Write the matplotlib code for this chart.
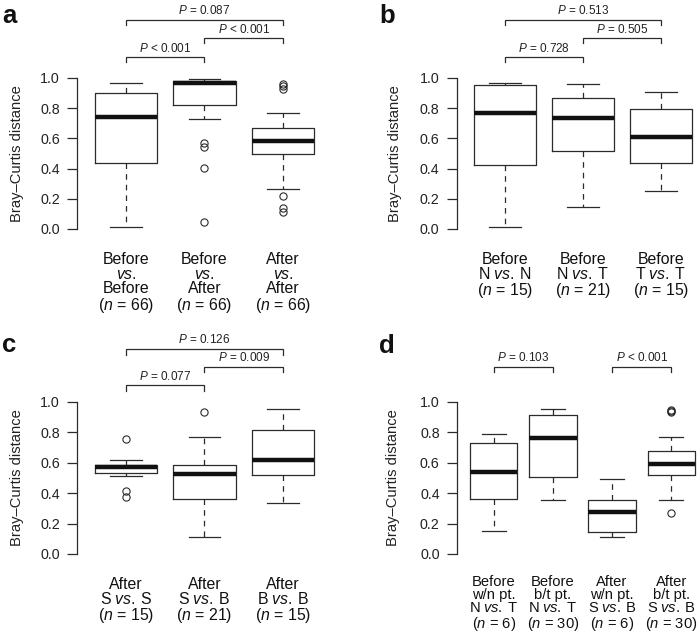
import matplotlib
matplotlib.use("Agg")
import matplotlib.pyplot as plt

plt.rcParams['font.family'] = ['Liberation Sans', 'DejaVu Sans']
plt.rcParams['mathtext.fontset'] = 'custom'
plt.rcParams['mathtext.rm'] = 'Liberation Sans'
plt.rcParams['mathtext.it'] = 'Liberation Sans:italic'
plt.rcParams['mathtext.default'] = 'it'

def vs(a, b):
    return "$\\mathrm{%s}\\;\\mathit{vs.}\\;\\mathrm{%s}$" % (a, b)

# ---------------- data ----------------
# Panel a
a_labels = ["Before\n$\\mathit{vs.}$\nBefore\n($\\mathit{n}$ = 66)",
            "Before\n$\\mathit{vs.}$\nAfter\n($\\mathit{n}$ = 66)",
            "After\n$\\mathit{vs.}$\nAfter\n($\\mathit{n}$ = 66)"]
a_whislo = [0.013, 0.728, 0.268]
a_q1 = [0.434, 0.819, 0.498]
a_med = [0.739, 0.965, 0.580]
a_q3 = [0.898, 0.982, 0.670]
a_whishi = [0.965, 0.993, 0.770]
a_fliers = [[], [0.571, 0.540, 0.405, 0.046], [0.960, 0.950, 0.930, 0.219, 0.142, 0.110]]
a_pairs = [(1, 2), (2, 3), (1, 3)]
a_pvals = ["< 0.001", "< 0.001", "= 0.087"]

# Panel b
b_labels = ["Before\n" + vs("N", "N") + "\n($\\mathit{n}$ = 15)",
            "Before\n" + vs("N", "T") + "\n($\\mathit{n}$ = 21)",
            "Before\n" + vs("T", "T") + "\n($\\mathit{n}$ = 15)"]
b_whislo = [0.013, 0.146, 0.252]
b_q1 = [0.427, 0.515, 0.440]
b_med = [0.765, 0.735, 0.611]
b_q3 = [0.956, 0.869, 0.794]
b_whishi = [0.965, 0.958, 0.909]
b_fliers = [[], [], []]
b_pairs = [(1, 2), (2, 3), (1, 3)]
b_pvals = ["= 0.728", "= 0.505", "= 0.513"]

# Panel c
c_labels = ["After\n" + vs("S", "S") + "\n($\\mathit{n}$ = 15)",
            "After\n" + vs("S", "B") + "\n($\\mathit{n}$ = 21)",
            "After\n" + vs("B", "B") + "\n($\\mathit{n}$ = 15)"]
c_whislo = [0.513, 0.112, 0.338]
c_q1 = [0.531, 0.360, 0.518]
c_med = [0.570, 0.526, 0.616]
c_q3 = [0.586, 0.583, 0.814]
c_whishi = [0.618, 0.770, 0.954]
c_fliers = [[0.759, 0.413, 0.373], [0.932], []]
c_pairs = [(1, 2), (2, 3), (1, 3)]
c_pvals = ["= 0.077", "= 0.009", "= 0.126"]

# Panel d
d_labels = ["Before\nw/n pt.\n" + vs("N", "T") + "\n($\\mathit{n}$ = 6)",
            "Before\nb/t pt.\n" + vs("N", "T") + "\n($\\mathit{n}$ = 30)",
            "After\nw/n pt.\n" + vs("S", "B") + "\n($\\mathit{n}$ = 6)",
            "After\nb/t pt.\n" + vs("S", "B") + "\n($\\mathit{n}$ = 30)"]
d_whislo = [0.151, 0.355, 0.112, 0.357]
d_q1 = [0.360, 0.504, 0.145, 0.518]
d_med = [0.537, 0.765, 0.274, 0.592]
d_q3 = [0.728, 0.914, 0.357, 0.675]
d_whishi = [0.792, 0.952, 0.496, 0.768]
d_fliers = [[], [], [], [0.950, 0.940, 0.935, 0.272]]
d_pairs = [(1, 2), (3, 4)]
d_pvals = ["= 0.103", "< 0.001"]

yticks = [0.0, 0.2, 0.4, 0.6, 0.8, 1.0]
ylabel = "Bray–Curtis distance"

# ---------------- layout ----------------
W, H = 697, 635
fig = plt.figure(figsize=(W / 100, H / 100), dpi=100)

EDGE = "#2b2b2b"

def make_panel(rect, labels, whislo, q1, med, q3, whishi, fliers,
               pairs, pvals, br_h, br_drop, br_lab, lab_y=-0.152, lsp=0.98,
               lab_fs=11.4):
    ax = fig.add_axes(rect)
    stats = []
    for i in range(len(labels)):
        stats.append(dict(med=med[i], q1=q1[i], q3=q3[i],
                          whislo=whislo[i], whishi=whishi[i],
                          fliers=fliers[i]))
    n = len(labels)
    ax.bxp(stats, positions=list(range(1, n + 1)), widths=0.8,
           showfliers=True, patch_artist=False,
           boxprops=dict(color=EDGE, linewidth=0.9),
           medianprops=dict(color="#111111", linewidth=3.2, solid_capstyle='butt'),
           whiskerprops=dict(color=EDGE, linewidth=0.9, linestyle=(0, (4.5, 4))),
           capprops=dict(color=EDGE, linewidth=0.9),
           flierprops=dict(marker='o', markersize=5.2, markerfacecolor='none',
                           markeredgecolor=EDGE, markeredgewidth=0.8, linestyle='none'))
    ax.set_xlim(0.38, n + 0.62)
    ax.set_ylim(-0.04, 1.04)
    for s in ['top', 'right', 'bottom']:
        ax.spines[s].set_visible(False)
    ax.spines['left'].set_bounds(0, 1)
    ax.spines['left'].set_color(EDGE)
    ax.spines['left'].set_linewidth(0.9)
    ax.set_yticks(yticks)
    ax.set_yticklabels(["%.1f" % v for v in yticks])
    ax.tick_params(axis='y', length=7, width=0.9, color=EDGE, pad=5.5,
                   labelsize=10.3, labelcolor="#222222")
    ax.set_xticks([])
    for i, lab in enumerate(labels):
        ax.text(i + 1, lab_y, lab, ha='center', va='top', fontsize=lab_fs,
                linespacing=lsp, color="#111111", clip_on=False)
    for (x1, x2), p, h, dr, lb in zip(pairs, pvals, br_h, br_drop, br_lab):
        ax.plot([x1, x1, x2, x2], [dr, h, h, dr], color=EDGE, linewidth=0.9,
                clip_on=False, solid_joinstyle='miter')
        ax.text((x1 + x2) / 2, lb, "$\\mathit{P}$ " + p, ha='center', va='center',
                fontsize=8.5, color="#222222", clip_on=False)
    return ax

ax_a = make_panel([77.3 / W, 0.6299, 254.4 / W, 0.2568], a_labels,
                  a_whislo, a_q1, a_med, a_q3, a_whishi, a_fliers,
                  a_pairs, a_pvals, [1.141, 1.263, 1.384], [1.108, 1.230, 1.351],
                  [1.197, 1.322, 1.444])
ax_b = make_panel([456.6 / W, 0.6299, 252.7 / W, 0.2568], b_labels,
                  b_whislo, b_q1, b_med, b_q3, b_whishi, b_fliers,
                  b_pairs, b_pvals, [1.141, 1.263, 1.384], [1.108, 1.230, 1.351],
                  [1.197, 1.322, 1.444], lsp=0.92)
ax_c = make_panel([77.3 / W, 0.118, 254.4 / W, 0.2586], c_labels,
                  c_whislo, c_q1, c_med, c_q3, c_whishi, c_fliers,
                  c_pairs, c_pvals, [1.112, 1.232, 1.349], [1.074, 1.195, 1.311],
                  [1.167, 1.290, 1.408], lsp=0.92)
ax_d = make_panel([457 / W, 0.118, 251 / W, 0.2586], d_labels,
                  d_whislo, d_q1, d_med, d_q3, d_whishi, d_fliers,
                  d_pairs, d_pvals, [1.232, 1.232], [1.200, 1.200],
                  [1.294, 1.294], lab_y=-0.138, lsp=0.93, lab_fs=10.6)

# y labels
for x, y in [(17.5, 153.5), (395, 153.5), (17.5, 478), (393, 478)]:
    fig.text(x / W, 1 - y / H, ylabel, rotation=90, ha='center', va='center',
             fontsize=10.6, color="#222222")

# panel letters
for lt, x, y in [("a", 2, 23), ("b", 379, 23), ("c", 2, 352), ("d", 379, 353)]:
    fig.text(x / W, 1 - y / H, lt, ha='left', va='baseline', fontsize=18.5,
             fontweight='bold', color="#111111")

fig.savefig("out.png", dpi=100)
